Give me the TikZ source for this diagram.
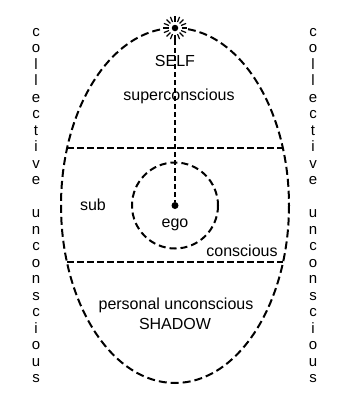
\documentclass[tikz,border=0pt]{standalone}
\usepackage{fontspec}
\setmainfont{Liberation Sans}

\begin{document}
\begin{tikzpicture}[
    x=1pt, y=-1pt,
    % Define line styles
    outline/.style={line width=2pt, dash pattern=on 8pt off 4pt},
    ringline/.style={line width=2pt, dash pattern=on 7pt off 4pt},
    divider/.style={line width=1.8pt, dash pattern=on 6.5pt off 3.5pt},
    axisline/.style={line width=1.5pt, dash pattern=on 5pt off 3pt},
    ray/.style={line width=1.2pt},
    dot/.style={circle, fill, inner sep=0pt},
    % Define text styles
    words/.style={font=\fontsize{16}{19}\selectfont, inner sep=0pt, anchor=base},
    colletter/.style={font=\fontsize{15}{18}\selectfont, inner sep=0pt, anchor=base}
]

% Common geometry
\def\cx{175}
\def\cy{205.5}
\def\step{16.5}

\useasboundingbox (0,0) rectangle (345,410);

% Outer egg of the psyche
\draw[outline] (\cx,\cy) ellipse [x radius=114, y radius=177.5];

% Layer dividers
\coordinate (upperL) at (67,148.3);
\coordinate (upperR) at (283,148.3);
\coordinate (lowerL) at (67,261.7);
\coordinate (lowerR) at (283,261.7);
\draw[divider] (upperL) -- (upperR);
\draw[divider] (lowerL) -- (lowerR);

% Ego circle with its centre
\draw[ringline] (\cx,\cy) circle [radius=43];
\node[dot, minimum size=7] (ego) at (\cx,\cy) {};

% SELF star on top of the egg
\fill[white] (\cx,28) circle [radius=13];
\node[dot, minimum size=6.5] (self) at (\cx,28) {};
\foreach \a in {0,22.5,...,337.5}
    \draw[ray] (self.center) +(\a:6.5) -- +(\a:12);
\draw[axisline, shorten <=9pt] (self) -- (ego);

% Texts inside the egg
\node[words] (selftext) at (175,66) {SELF};
\node[words] (super) at (179,100) {superconscious};
\node[words] (sub) at (93,210) {sub};
\node[words] (egotext) at (175,227.5) {ego};
\node[words] (conscious) at (242,256) {conscious};
\node[words] (personal) at (176,309) {personal unconscious};
\node[words] (shadow) at (175,329) {SHADOW};

% Collective unconscious, spelled downwards on both sides
\foreach \ch [count=\i] in {c,o,l,l,e,c,t,i,v,e} {
    \node[colletter] (lc\i) at (36,36+\step*\i-\step) {\ch};
    \node[colletter] (rc\i) at (313,36+\step*\i-\step) {\ch};
}
\foreach \ch [count=\i] in {u,n,c,o,n,s,c,i,o,u,s} {
    \node[colletter] (lu\i) at (36,217.5+\step*\i-\step) {\ch};
    \node[colletter] (ru\i) at (313,217.5+\step*\i-\step) {\ch};
}

\end{tikzpicture}
\end{document}
